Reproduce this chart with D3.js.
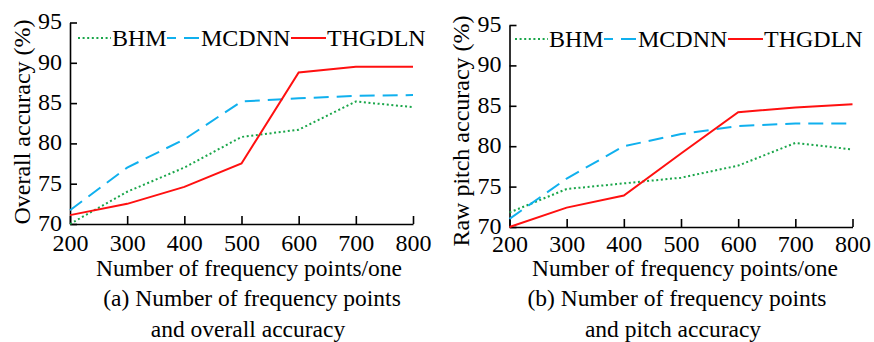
<!DOCTYPE html>
<html>
<head>
<meta charset="utf-8">
<script src="https://cdn.jsdelivr.net/npm/d3@7"></script>
<style>
  body { margin: 0; background: #fff; }
</style>
</head>
<body>
<svg id="chart" width="874" height="342"></svg>
<script>
// data
let freqPoints = [200, 300, 400, 500, 600, 700, 800];
let yTicks = [70, 75, 80, 85, 90, 95];
let seriesNames = ["BHM", "MCDNN", "THGDLN"];

let overallBHM    = [70.0, 74.0, 77.0, 80.8, 81.7, 85.2, 84.5];
let overallMCDNN  = [71.7, 77.0, 80.5, 85.2, 85.6, 85.9, 86.0];
let overallTHGDLN = [71.1, 72.5, 74.6, 77.5, 88.8, 89.5, 89.5];

let pitchBHM    = [71.8, 74.7, 75.4, 76.1, 77.6, 80.4, 79.6];
let pitchMCDNN  = [71.0, 76.0, 80.0, 81.5, 82.5, 82.8, 82.8];
let pitchTHGDLN = [70.0, 72.4, 73.9, 79.1, 84.2, 84.8, 85.2];

let styles = {
  BHM:    {color: "#1aa64a", dash: "2,2.6"},
  MCDNN:  {color: "#10b0ee", dash: "15,8"},
  THGDLN: {color: "#ff1010", dash: null}
};

const FONT = "'Liberation Serif', 'Times New Roman', serif";

let svg = d3.select("#chart").style("font-family", FONT);

let panels = [
  {
    x0: 70, x1: 413, yTop: 22.5, yBottom: 224, tickY: 27,
    yTitle: "Overall accuracy (%)", yTitleX: 22, yTitleY: 122,
    series: {BHM: overallBHM, MCDNN: overallMCDNN, THGDLN: overallTHGDLN},
    legendX: 78, legendY: 38,
    xTitleX: 249, captionX: 252, caption: ["(a) Number of frequency points", "and overall accuracy"]
  },
  {
    x0: 509.5, x1: 852.5, yTop: 25, yBottom: 227, tickY: 24.5,
    yTitle: "Raw pitch accuracy (%)", yTitleX: 461, yTitleY: 131,
    series: {BHM: pitchBHM, MCDNN: pitchMCDNN, THGDLN: pitchTHGDLN},
    legendX: 515, legendY: 39,
    xTitleX: 685, captionX: 677, caption: ["(b) Number of frequency points", "and pitch accuracy"]
  }
];

panels.forEach(function(p) {
  let x = d3.scaleLinear().domain([200, 800]).range([p.x0, p.x1]);
  let y = d3.scaleLinear().domain([70, 95]).range([p.yBottom, p.yTop]);
  let g = svg.append("g");

  // axes with inward ticks
  let xAxis = d3.axisBottom(x).tickValues(freqPoints).tickSize(-8).tickSizeOuter(0);
  let yAxis = d3.axisLeft(y).tickValues(yTicks).tickSize(-7).tickSizeOuter(0).tickPadding(8);

  let xg = g.append("g").attr("transform", translate(0, p.yBottom)).call(xAxis);
  let yg = g.append("g").attr("transform", translate(p.x0, 0)).call(yAxis);
  [xg, yg].forEach(function(a) {
    a.attr("font-family", null).attr("font-size", null);
    a.select(".domain").attr("stroke", "#000").attr("stroke-width", 1.6);
    a.selectAll(".tick line").attr("stroke", "#000").attr("stroke-width", 1.6);
    a.selectAll("text").style("font-family", FONT).style("font-size", "24px").attr("fill", "#000");
  });
  xg.selectAll("text").attr("dy", "0").attr("y", p.tickY);
  yg.selectAll("text").attr("dy", "0.27em");

  // lines
  let line = d3.line().x((d, i) => x(freqPoints[i])).y(d => y(d));
  seriesNames.forEach(function(name) {
    let s = styles[name];
    g.append("path")
      .datum(p.series[name])
      .attr("d", line)
      .attr("fill", "none")
      .attr("stroke", s.color)
      .attr("stroke-width", 2)
      .attr("stroke-dasharray", s.dash);
  });

  // legend
  let lx = p.legendX;
  let legendWidths = {BHM: [33, 54], MCDNN: [33, 89], THGDLN: [35, 99]};
  seriesNames.forEach(function(name) {
    let s = styles[name];
    let w = legendWidths[name];
    g.append("line")
      .attr("x1", lx).attr("x2", lx + w[0])
      .attr("y1", p.legendY).attr("y2", p.legendY)
      .attr("stroke", s.color).attr("stroke-width", 2)
      .attr("stroke-dasharray", s.dash)
      .attr("stroke-dashoffset", name === "MCDNN" ? 6 : 0);
    g.append("text")
      .attr("x", lx + w[0] + 1).attr("y", p.legendY + 8)
      .style("font-size", "24px")
      .text(name);
    lx += w[0] + w[1] + 2;
  });

  // axis titles
  g.append("text")
    .attr("transform", translate(p.yTitleX, p.yTitleY) + " rotate(-90)")
    .attr("dy", "0.35em")
    .attr("text-anchor", "middle")
    .style("font-size", "24px")
    .text(p.yTitle);

  let bottomTexts = [
    {t: "Number of frequency points/one", x: p.xTitleX, y: 276},
    {t: p.caption[0], x: p.captionX, y: 306},
    {t: p.caption[1], x: p.captionX - 4, y: 337}
  ];
  bottomTexts.forEach(function(b) {
    g.append("text")
      .attr("x", b.x).attr("y", b.y)
      .attr("text-anchor", "middle")
      .style("font-size", "23.5px")
      .text(b.t);
  });
});

function translate(x, y) {
  return 'translate(' + x + ',' + y + ')';
}
</script>
</body>
</html>
